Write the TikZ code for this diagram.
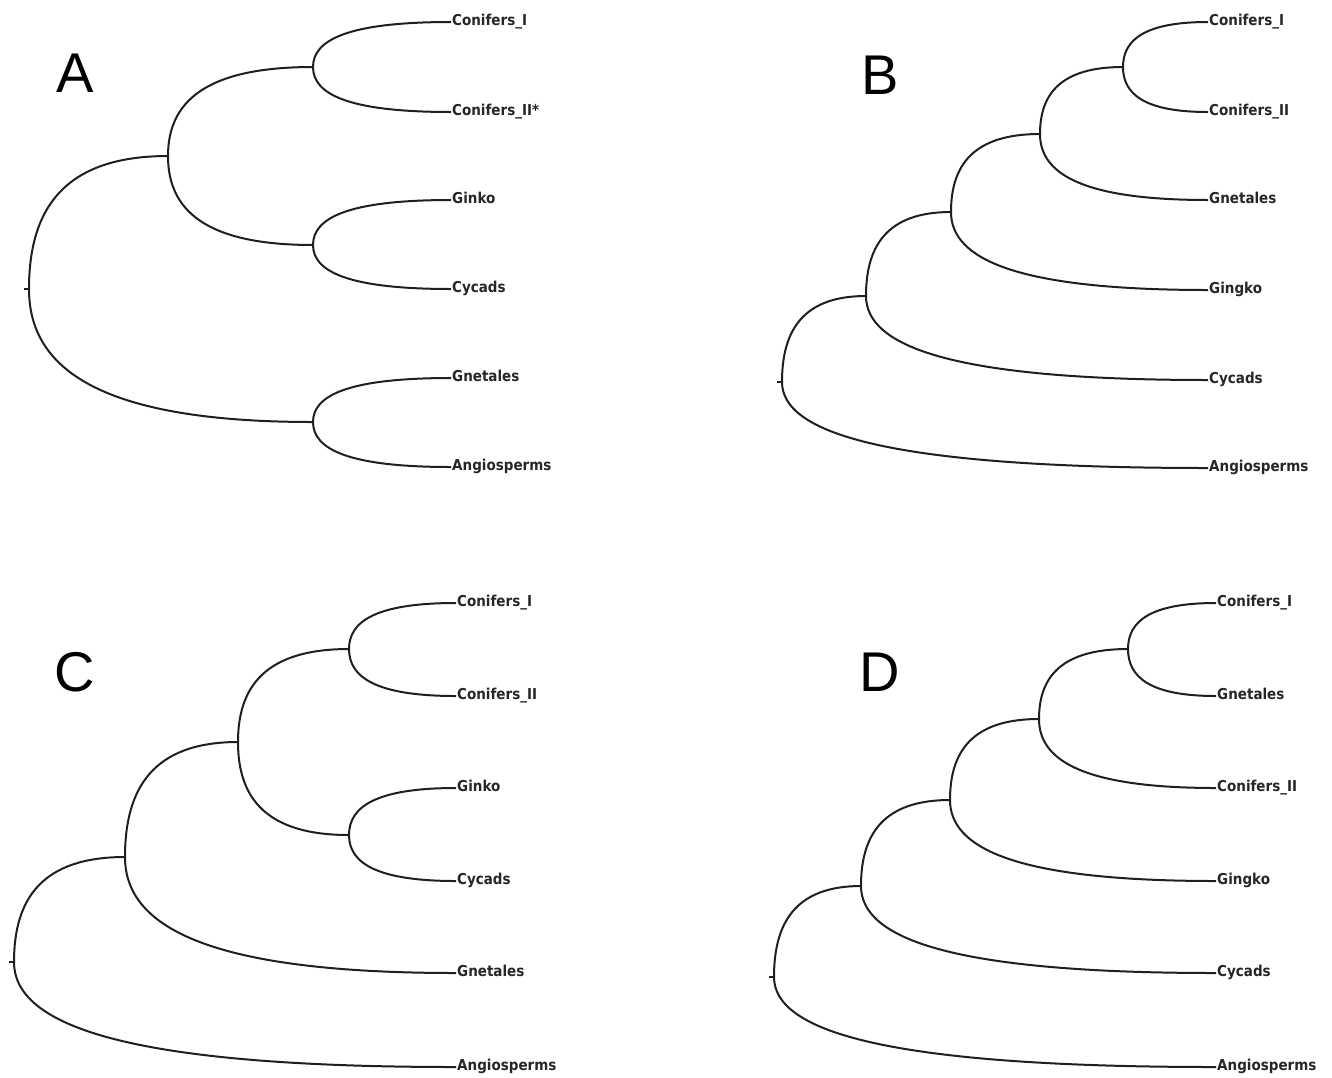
\documentclass[tikz,border=0pt]{standalone}
\usepackage{fontspec}
\setmainfont{Liberation Sans}
\newfontfamily\labfont{DejaVu Sans Condensed}
\usetikzlibrary{calc}
\tikzset{
  branch/.style={line width=2pt, black!88},
  leaf/.style={anchor=west, inner xsep=1pt, inner ysep=0pt, text height=0.73em, text depth=0pt,
    font=\labfont\bfseries\fontsize{15}{17}\selectfont, text=black!85},
  panel/.style={font=\fontsize{56}{60}\selectfont, inner sep=0pt},
}
\newcommand\treebranch[2]{\draw[branch] (#1) .. controls ($(#1)!0.6!(#1|-#2)$) and ($(#1|-#2)!0.25!(#2)$) .. (#2);}
\newcommand\roottick[1]{\draw[branch] (#1) -- ++(-5,0);}
\begin{document}
\begin{tikzpicture}[x=1pt,y=-1pt]
\useasboundingbox (0,0) rectangle (1332,1077);
% ---------------- Panel A ----------------
\node[panel] (LA) at (75,73) {A};
\node[leaf] (A1) at (451,22)  {Conifers\_I};
\node[leaf] (A2) at (451,112) {Conifers\_II*};
\node[leaf] (A3) at (451,200) {Ginko};
\node[leaf] (A4) at (451,289) {Cycads};
\node[leaf] (A5) at (451,378) {Gnetales};
\node[leaf] (A6) at (451,467) {Angiosperms};
\coordinate (a12) at (313,67);
\coordinate (a34) at (313,245);
\coordinate (a56) at (313,422);
\coordinate (a1234) at (168,156);
\coordinate (aroot) at (29,289);
\treebranch{a12}{A1.west}
\treebranch{a12}{A2.west}
\treebranch{a34}{A3.west}
\treebranch{a34}{A4.west}
\treebranch{a56}{A5.west}
\treebranch{a56}{A6.west}
\treebranch{a1234}{a12}
\treebranch{a1234}{a34}
\treebranch{aroot}{a1234}
\treebranch{aroot}{a56}
\roottick{aroot}
% ---------------- Panel B ----------------
\node[panel] (LB) at (880,75) {B};
\node[leaf] (B1) at (1208,22)  {Conifers\_I};
\node[leaf] (B2) at (1208,112) {Conifers\_II};
\node[leaf] (B3) at (1208,200) {Gnetales};
\node[leaf] (B4) at (1208,290) {Gingko};
\node[leaf] (B5) at (1208,380) {Cycads};
\node[leaf] (B6) at (1208,468) {Angiosperms};
\coordinate (b12) at (1123,67);
\coordinate (b123) at (1040,134);
\coordinate (b1234) at (951,212);
\coordinate (b12345) at (866,296);
\coordinate (broot) at (782,382);
\treebranch{b12}{B1.west}
\treebranch{b12}{B2.west}
\treebranch{b123}{b12}
\treebranch{b123}{B3.west}
\treebranch{b1234}{b123}
\treebranch{b1234}{B4.west}
\treebranch{b12345}{b1234}
\treebranch{b12345}{B5.west}
\treebranch{broot}{b12345}
\treebranch{broot}{B6.west}
\roottick{broot}
% ---------------- Panel C ----------------
\node[panel] (LC) at (75,672) {C};
\node[leaf] (C1) at (456,603)  {Conifers\_I};
\node[leaf] (C2) at (456,696)  {Conifers\_II};
\node[leaf] (C3) at (456,788)  {Ginko};
\node[leaf] (C4) at (456,881)  {Cycads};
\node[leaf] (C5) at (456,973)  {Gnetales};
\node[leaf] (C6) at (456,1067) {Angiosperms};
\coordinate (c12) at (349,649);
\coordinate (c34) at (349,835);
\coordinate (c1234) at (238,742);
\coordinate (c12345) at (125,857);
\coordinate (croot) at (14,962);
\treebranch{c12}{C1.west}
\treebranch{c12}{C2.west}
\treebranch{c34}{C3.west}
\treebranch{c34}{C4.west}
\treebranch{c1234}{c12}
\treebranch{c1234}{c34}
\treebranch{c12345}{c1234}
\treebranch{c12345}{C5.west}
\treebranch{croot}{c12345}
\treebranch{croot}{C6.west}
\roottick{croot}
% ---------------- Panel D ----------------
\node[panel] (LD) at (880,672) {D};
\node[leaf] (D1) at (1216,603)  {Conifers\_I};
\node[leaf] (D2) at (1216,696)  {Gnetales};
\node[leaf] (D3) at (1216,788)  {Conifers\_II};
\node[leaf] (D4) at (1216,881)  {Gingko};
\node[leaf] (D5) at (1216,973)  {Cycads};
\node[leaf] (D6) at (1216,1067) {Angiosperms};
\coordinate (d12) at (1128,649);
\coordinate (d123) at (1039,719);
\coordinate (d1234) at (950,800);
\coordinate (d12345) at (861,886);
\coordinate (droot) at (774,977);
\treebranch{d12}{D1.west}
\treebranch{d12}{D2.west}
\treebranch{d123}{d12}
\treebranch{d123}{D3.west}
\treebranch{d1234}{d123}
\treebranch{d1234}{D4.west}
\treebranch{d12345}{d1234}
\treebranch{d12345}{D5.west}
\treebranch{droot}{d12345}
\treebranch{droot}{D6.west}
\roottick{droot}
\end{tikzpicture}
\end{document}
